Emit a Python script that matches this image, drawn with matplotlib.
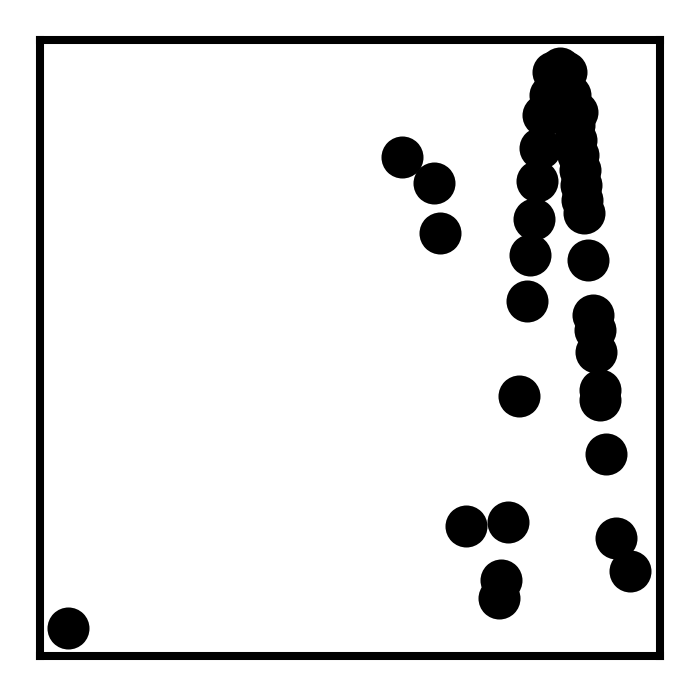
import numpy as np
import matplotlib
matplotlib.use("Agg")
import matplotlib.pyplot as plt

# point coordinates (arbitrary units, axis spans 0..620 x 0..616)
x_vals = [28, 362, 394, 400, 479, 426, 468, 461, 459,
          487, 490, 494, 497, 500, 503,
          566, 576, 590,
          513, 526, 520, 506, 537, 520, 530, 510,
          534, 536, 538, 540, 541, 542, 544, 548,
          553, 555, 556, 560, 560]
y_vals = [28, 499, 473, 423, 260, 130, 134, 76, 58,
          355, 401, 437, 475, 508, 541,
          202, 118, 85,
          584, 584, 588, 544, 544, 566, 561, 561,
          531, 516, 501, 486, 471, 456, 443, 396,
          341, 326, 304, 266, 256]

def main():
    fig = plt.figure(figsize=(7.0, 6.96), dpi=100)
    ax = fig.add_axes([40/700, 40/696, 620/700, 616/696])
    ax.scatter(x_vals, y_vals, s=915, c="black", linewidths=0)
    ax.set_xlim(0, 620)
    ax.set_ylim(0, 616)
    ax.set_xticks([])
    ax.set_yticks([])
    for sp in ax.spines.values():
        sp.set_linewidth(5.8)
    fig.savefig("out.png", dpi=100)

if __name__ == "__main__":
    main()
